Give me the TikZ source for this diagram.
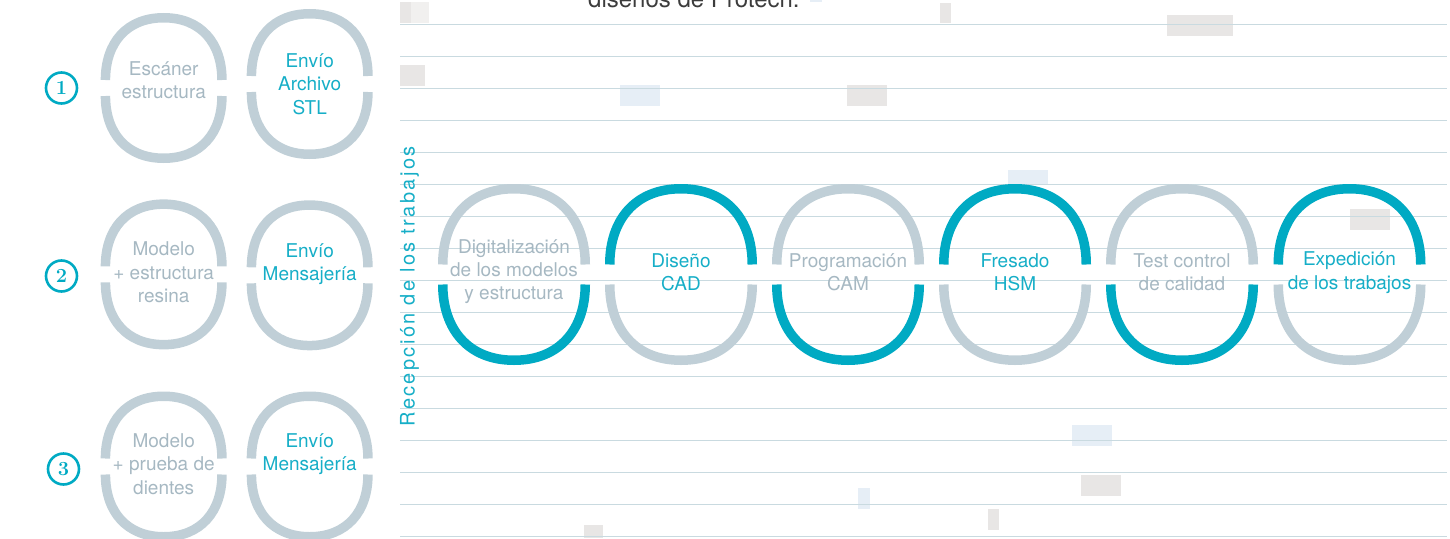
\documentclass[tikz,border=0pt]{standalone}
\usepackage{fontspec}
\setsansfont{TeX Gyre Heros}
\newfontfamily\espaciada[LetterSpace=12]{TeX Gyre Heros}
\usepackage{xcolor}
\usepackage{tikz}
\definecolor{turquesa}{RGB}{0,170,195}
\definecolor{grisazul}{RGB}{192,207,215}
\definecolor{textogris}{RGB}{166,184,194}
\definecolor{textoturq}{RGB}{22,174,199}
\definecolor{pauta}{RGB}{201,218,224}
\definecolor{tinta}{RGB}{60,60,60}
\definecolor{parchegris}{RGB}{232,230,229}
\definecolor{parcheclaro}{RGB}{241,240,239}
\definecolor{parcheazul}{RGB}{230,238,246}

% ring split at mid height: x, y, rx, ry, half gap, top colour, bottom colour
\newcommand{\aro}[7]{%
  \draw[aro, #6] (#1-#3,#2-#5) .. controls (#1-#3,#2-0.64*#4) and (#1-0.64*#3,#2-#4) .. (#1,#2-#4)
    .. controls (#1+0.64*#3,#2-#4) and (#1+#3,#2-0.64*#4) .. (#1+#3,#2-#5);
  \draw[aro, #7] (#1-#3,#2+#5) .. controls (#1-#3,#2+0.64*#4) and (#1-0.64*#3,#2+#4) .. (#1,#2+#4)
    .. controls (#1+0.64*#3,#2+#4) and (#1+#3,#2+0.64*#4) .. (#1+#3,#2+#5);
}

\begin{document}
\begin{tikzpicture}[
    x=1pt, y=-1pt,
    every node/.style={font=\sffamily\fontsize{19}{23.3}\selectfont, align=center},
    aro/.style={line width=9.5pt},
    gristxt/.style={text=textogris},
    turqtxt/.style={text=textoturq},
    numero/.style={circle, draw=turquesa, line width=2.6pt, minimum size=31pt, inner sep=0pt,
        text=turquesa, font=\rmfamily\bfseries\fontsize{20}{20}\selectfont},
]
    \useasboundingbox (0,0) rectangle (1450,538);
    \clip (0,0) rectangle (1450,538);

    % blank patches
    \fill[parchegris] (400,2) rectangle (411,23);
    \fill[parcheclaro] (411,2) rectangle (429,23);
    \fill[parchegris] (400,65) rectangle (425,86);
    \fill[parcheazul] (620,85) rectangle (660,106);
    \fill[parchegris] (847,85) rectangle (887,106);
    \fill[parcheazul] (810,0) rectangle (822,2);
    \fill[parchegris] (940,3) rectangle (951,23);
    \fill[parchegris] (1167,15) rectangle (1233,36);
    \fill[parcheazul] (1008,170) rectangle (1048,185);
    \fill[parchegris] (1350,209) rectangle (1390,230);
    \fill[parcheazul] (1072,425) rectangle (1112,446);
    \fill[parchegris] (1081,475) rectangle (1121,496);
    \fill[parchegris] (988,509) rectangle (999,530);
    \fill[parcheazul] (858,488) rectangle (870,509);
    \fill[parchegris] (584,525) rectangle (603,538);

    % ruled lines
    \foreach \k in {0,...,16}
        \draw[pauta, line width=1.6pt] (400,24.3+32*\k) -- (1447,24.3+32*\k);

    \node[anchor=base west, inner sep=0pt, text=tinta, font=\sffamily\fontsize{24}{28}\selectfont]
        (protech) at (588,7) {diseños de Protech.};

    % Entry options
    \node[numero] (uno) at (61.5,88) {1};
    \aro{163.7}{88}{58.25}{70.25}{8}{grisazul}{grisazul}
    \aro{309.7}{84}{58.25}{70.25}{8}{grisazul}{grisazul}
    \node[gristxt] (escaner) at (163.7,80) {Escáner\\estructura};
    \node[turqtxt] (archivo) at (309.7,84) {Envío\\Archivo\\STL};

    \node[numero] (dos) at (61.5,276) {2};
    \aro{163.7}{274.4}{58.25}{70.25}{8}{grisazul}{grisazul}
    \aro{309.7}{275.3}{58.25}{70.25}{8}{grisazul}{grisazul}
    \node[gristxt] (resina) at (163.7,272.5) {Modelo\\+ estructura\\resina};
    \node[turqtxt] (mensajeria) at (309.7,264) {Envío\\Mensajería};

    \node[numero] (tres) at (63.5,469) {3};
    \aro{163.7}{466.5}{58.25}{70.25}{8}{grisazul}{grisazul}
    \aro{309.7}{466.5}{58.25}{70.25}{8}{grisazul}{grisazul}
    \node[gristxt] (dientes) at (163.7,464) {Modelo\\+ prueba de\\dientes};
    \node[turqtxt] (envio) at (309.7,454) {Envío\\Mensajería};

    \node[rotate=90, text=textoturq, font=\espaciada\fontsize{20}{20}\selectfont]
        (recepcion) at (409.5,286.5) {Recepción de los trabajos};

    % Workflow chain
    \aro{514}{274.5}{71.25}{85.75}{10}{grisazul}{turquesa}
    \aro{681}{274.5}{71.25}{85.75}{10}{turquesa}{grisazul}
    \aro{848}{274.5}{71.25}{85.75}{10}{grisazul}{turquesa}
    \aro{1015}{274.5}{71.25}{85.75}{10}{turquesa}{grisazul}
    \aro{1182}{274.5}{71.25}{85.75}{10}{grisazul}{turquesa}
    \aro{1349.5}{274.5}{71.25}{85.75}{10}{turquesa}{grisazul}
    \node[gristxt] (digital) at (514,271.5) {Digitalización\\de los modelos\\y estructura};
    \node[turqtxt] (cad) at (681,272.5) {Diseño\\CAD};
    \node[gristxt] (cam) at (848,272.5) {Programación\\CAM};
    \node[turqtxt] (hsm) at (1015,272.5) {Fresado\\HSM};
    \node[gristxt] (calidad) at (1182,272.5) {Test control\\de calidad};
    \node[turqtxt] (expedicion) at (1349.5,272.5) {Expedición\\de los trabajos};
\end{tikzpicture}
\end{document}
